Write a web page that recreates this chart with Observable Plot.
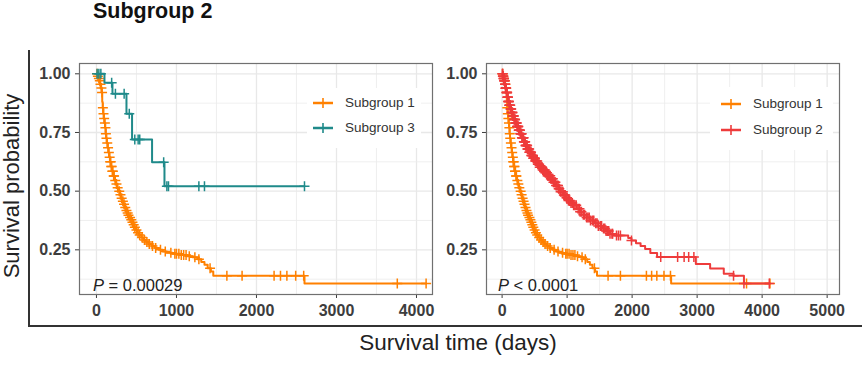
<!DOCTYPE html>
<html><head><meta charset="utf-8">
<script src="https://cdn.jsdelivr.net/npm/d3@7"></script>
<script src="https://cdn.jsdelivr.net/npm/@observablehq/plot@0.6"></script>
<style>
body{margin:0;background:#fff;font-family:"Liberation Sans",Arial,sans-serif;}
#fig{position:relative;width:867px;height:367px;overflow:hidden;background:#fff;}
.abs{position:absolute;white-space:nowrap;}
#title{left:93px;top:1px;font-size:21.5px;line-height:21.5px;font-weight:bold;color:#111;}
#outer{left:28px;top:50px;width:832px;height:275px;border-left:2px solid #333;border-bottom:2px solid #333;}
#ylab{left:12px;top:186px;font-size:22px;line-height:22px;color:#222;transform:translate(-50%,-50%) rotate(-90deg);}
#xlab{left:458px;top:343px;font-size:22.5px;line-height:24px;color:#222;transform:translate(-50%,-50%);}
.pval{font-size:16.5px;line-height:16.5px;color:#222;}
.legtxt{font-size:13.5px;line-height:16px;color:#333;}
</style></head><body>
<div id="fig">
  <div id="outer" class="abs"></div>
  <div id="pl" class="abs" style="left:30px;top:55px;"></div>
  <div id="pr" class="abs" style="left:440px;top:55px;"></div>
  <div id="title" class="abs">Subgroup 2</div>
  <div id="ylab" class="abs">Survival probability</div>
  <div id="xlab" class="abs">Survival time (days)</div>
</div>
<script>
// ---------- data ----------
const groupNames = ["Subgroup 1", "Subgroup 2", "Subgroup 3"];
const groupColors = ["#FF8000", "#EE3B3B", "#1F8A8A"];

// Subgroup 1 (Kaplan-Meier steps)
const sg1Time = [0,15,25,35,45,55,65,72,78,85,92,100,108,115,122,130,140,150,160,170,180,195,210,225,240,258,275,290,305,320,335,350,365,380,395,410,425,440,455,470,490,510,535,560,590,620,650,690,730,780,830,880,950,1050,1130,1200,1260,1310,1350,1390,1430,1460,2600,4120];
const sg1Surv = [1,0.99,0.98,0.97,0.955,0.94,0.92,0.88,0.855,0.83,0.81,0.79,0.77,0.745,0.725,0.705,0.685,0.665,0.645,0.625,0.605,0.585,0.565,0.545,0.53,0.515,0.5,0.485,0.47,0.457,0.444,0.43,0.418,0.407,0.397,0.388,0.378,0.368,0.357,0.346,0.334,0.323,0.313,0.303,0.292,0.283,0.275,0.266,0.258,0.25,0.243,0.238,0.233,0.228,0.223,0.218,0.21,0.198,0.186,0.172,0.158,0.14,0.107,0.107];
const sg1Censor = [8,18,30,42,50,62,70,80,88,96,105,112,118,125,135,145,155,165,172,178,185,190,198,205,215,220,235,250,265,285,300,315,330,345,360,375,390,400,420,435,450,465,480,500,520,540,570,600,630,660,700,740,800,860,930,980,1000,1030,1060,1090,1120,1160,1230,1280,1420,1630,1820,2220,2300,2380,2490,2590,3760,4120];

// Subgroup 2
const sg2Time = [0,10,20,30,40,50,65,80,95,110,128,145,165,185,205,230,255,280,305,333,360,390,420,450,480,510,545,580,620,660,700,745,790,830,870,900,940,980,1020,1060,1100,1150,1200,1250,1300,1360,1420,1480,1540,1600,1660,1720,1940,1990,2060,2130,2200,2280,2384,2980,3200,3410,3560,3720,4120];
const sg2Surv = [1,0.99,0.98,0.97,0.955,0.938,0.92,0.9,0.882,0.866,0.85,0.835,0.82,0.805,0.79,0.776,0.76,0.745,0.728,0.71,0.695,0.68,0.666,0.652,0.64,0.628,0.615,0.602,0.59,0.578,0.566,0.553,0.538,0.524,0.51,0.497,0.484,0.472,0.46,0.45,0.44,0.425,0.412,0.4,0.388,0.375,0.363,0.352,0.341,0.33,0.318,0.311,0.3,0.29,0.278,0.266,0.254,0.237,0.219,0.19,0.17,0.148,0.14,0.107,0.107];
const sg2Censor = [5,8,12,15,18,22,25,28,32,35,38,45,48,52,55,58,60,62,68,70,75,78,82,85,88,90,95,98,100,105,110,115,120,125,130,135,140,145,150,155,160,165,170,175,180,185,190,195,200,205,210,215,220,225,230,235,240,245,250,255,260,265,270,275,280,285,290,295,300,305,310,315,320,325,330,335,340,345,350,355,360,365,370,375,380,385,390,395,400,410,415,420,425,430,440,445,450,455,460,470,475,480,485,490,500,505,510,520,530,540,550,560,570,580,590,600,610,615,625,640,650,655,665,680,690,700,710,720,730,740,750,760,770,780,790,800,810,820,830,845,860,870,880,900,920,935,950,960,970,990,1000,1020,1040,1060,1080,1100,1120,1140,1170,1190,1200,1220,1250,1270,1300,1320,1340,1360,1390,1410,1440,1460,1480,1510,1530,1560,1580,1600,1620,1640,1660,1690,1700,1760,1790,1820,1990,2440,2700,2800,2870,2950,3560,3720,4110];

// Subgroup 3
const sg3Time = [0,100,200,375,445,695,850,2600];
const sg3Surv = [1,0.962,0.915,0.83,0.72,0.623,0.521,0.521];
const sg3Censor = [8,30,55,190,237,346,410,479,521,541,840,880,900,1280,1350,2600];

const xTicksLeft = [0,1000,2000,3000,4000];
const xMinorLeft = [500,1500,2500,3500];
const xTicksRight = [0,1000,2000,3000,4000,5000];
const xMinorRight = [500,1500,2500,3500,4500];
const yTicks = [0.25,0.50,0.75,1.00];
const yMinor = [0.125,0.375,0.625,0.875];
const pLeft = "= 0.00029";
const pRight = "< 0.0001";

// ---------- helpers ----------
const curve = (T, S) => T.map((t, i) => ({t, s: S[i]}));
const censors = (T, S, C) => C.map(t => ({t, s: S[Math.max(0, d3.bisectRight(T, t) - 1)]}));
const plusSymbol = {draw(ctx, size){ const r = Math.sqrt(size / Math.PI); ctx.moveTo(-r, 0); ctx.lineTo(r, 0); ctx.moveTo(0, -r); ctx.lineTo(0, r); }};

const groups = [
  {T: sg1Time, S: sg1Surv, C: sg1Censor, color: groupColors[0]},
  {T: sg2Time, S: sg2Surv, C: sg2Censor, color: groupColors[1]},
  {T: sg3Time, S: sg3Surv, C: sg3Censor, color: groupColors[2]}
];

function kmMarks(g) {
  return [
    Plot.line(curve(g.T, g.S), {x: "t", y: "s", curve: "step-after", stroke: g.color, strokeWidth: 2}),
    Plot.dot(censors(g.T, g.S, g.C), {x: "t", y: "s", symbol: plusSymbol, r: 5, fill: "none", stroke: g.color, strokeWidth: 1.5})
  ];
}

function panel(opts) {
  return Plot.plot({
    width: opts.width, height: 270,
    marginLeft: opts.ml, marginRight: opts.mr, marginTop: 8, marginBottom: 31,
    x: {domain: opts.xdomain},
    y: {domain: [0.0597, 1.0439]},
    style: {fontFamily: "'Liberation Sans', Arial, sans-serif", color: "#3d3d3d", background: "transparent", overflow: "visible"},
    marks: [
      Plot.gridX(opts.minor, {stroke: "#ebebeb", strokeOpacity: 1, strokeWidth: 0.8}),
      Plot.gridX(opts.ticks, {stroke: "#e8e8e8", strokeOpacity: 1, strokeWidth: 1.3}),
      Plot.gridY(yMinor, {stroke: "#ebebeb", strokeOpacity: 1, strokeWidth: 0.8}),
      Plot.gridY(yTicks, {stroke: "#e8e8e8", strokeOpacity: 1, strokeWidth: 1.3}),
      Plot.axisX(opts.ticks, {tickSize: 4, tickPadding: 6, fontSize: 16, fontWeight: "bold", label: null, tickFormat: d => String(d)}),
      Plot.axisY(yTicks, {tickSize: 4, tickPadding: 5, fontSize: 16, fontWeight: "bold", label: null, tickFormat: d3.format(".2f")}),
      ...opts.groups.flatMap(kmMarks),
      Plot.frame({stroke: "#707070", strokeWidth: 1.2})
    ]
  });
}

document.getElementById("pl").append(panel({width: 410, ml: 49, mr: 8, xdomain: [-212, 4200], ticks: xTicksLeft, minor: xMinorLeft, groups: [groups[0], groups[2]]}));
document.getElementById("pr").append(panel({width: 427, ml: 46, mr: 28, xdomain: [-240, 5190], ticks: xTicksRight, minor: xMinorRight, groups: [groups[0], groups[1]]}));

// ---------- legends & p-values ----------
const fig = document.getElementById("fig");
function el(tag, cls, style, html) {
  const e = document.createElement(tag); if (cls) e.className = cls;
  Object.assign(e.style, style); if (html != null) e.innerHTML = html; fig.append(e); return e;
}
function legend(box, keyLeft, textLeft, rows, idx) {
  el("div", "abs", {left: box[0] + "px", top: box[1] + "px", width: box[2] + "px", height: box[3] + "px", background: "#fff"});
  idx.forEach((gi, k) => {
    const y = rows[k], c = groupColors[gi];
    el("div", "abs", {left: keyLeft + "px", top: (y - 7) + "px", width: "24px", height: "14px"},
      `<svg width="24" height="14"><line x1="2" x2="22" y1="7" y2="7" stroke="${c}" stroke-width="2.5"/><line x1="12" x2="12" y1="2" y2="12" stroke="${c}" stroke-width="1.6"/></svg>`);
    el("div", "abs legtxt", {left: textLeft + "px", top: (y - 8) + "px"}, groupNames[gi]);
  });
}
legend([307, 88, 114, 60], 311, 345, [103.3, 128.3], [0, 2]);
legend([710, 87, 123, 63], 719, 753, [104, 130], [0, 1]);

el("div", "abs pval", {left: "93px", top: "277px"}, `<i>P</i> ${pLeft}`);
el("div", "abs pval", {left: "498px", top: "277px"}, `<i>P</i> ${pRight}`);
</script>
</body></html>
